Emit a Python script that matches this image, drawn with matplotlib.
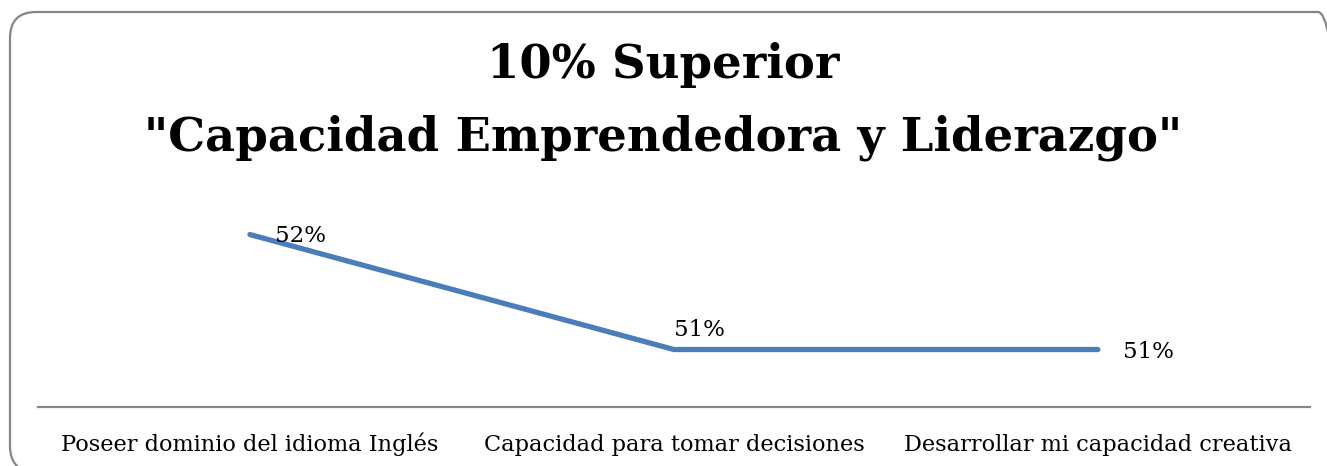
import matplotlib
matplotlib.use("Agg")
import matplotlib.pyplot as plt
from matplotlib.patches import FancyBboxPatch
from matplotlib.transforms import IdentityTransform

# ---------------------------
# Data
# ---------------------------
categories = [
    "Poseer dominio del idioma Inglés",
    "Capacidad para tomar decisiones",
    "Desarrollar mi capacidad creativa",
]
values = [0.52, 0.51, 0.51]
value_labels = ["52%", "51%", "51%"]
title_lines = ["10% Superior", '"Capacidad Emprendedora y Liderazgo"']

LINE_COLOR = "#4A7EBB"
AXIS_COLOR = "#868686"
SERIF = ["DejaVu Serif"]

fig = plt.figure(figsize=(13.27, 4.66), dpi=100)
fig.patch.set_facecolor("white")

# rounded chart frame (display pixels)
frame = FancyBboxPatch((10, -6), 1334, 460,
                       boxstyle="round,pad=0,rounding_size=26",
                       transform=IdentityTransform(),
                       facecolor="none", edgecolor=AXIS_COLOR, linewidth=1.6)
fig.patches.append(frame)

ax = fig.add_axes([0.0286, 0.1266, 0.9585, 0.4934])
x = list(range(len(categories)))
ax.plot(x, values, color=LINE_COLOR, linewidth=3.8, solid_capstyle="round",
        solid_joinstyle="miter")

ax.set_xlim(-0.5, len(categories) - 0.5)
ax.set_ylim(0.505, 0.525)

# data labels: right, above, right
offsets = [(18, -1), (0, 14), (18, -2)]
for xi, v, lab, off in zip(x, values, value_labels, offsets):
    ax.annotate(lab, (xi, v), xytext=off, textcoords="offset points",
                ha="left", va="center", fontsize=16.5, family=SERIF)

for side in ["left", "right", "top"]:
    ax.spines[side].set_visible(False)
ax.spines["bottom"].set_color(AXIS_COLOR)
ax.spines["bottom"].set_linewidth(1.6)
ax.set_yticks([])
ax.set_xticks(x)
ax.set_xticklabels(categories, fontsize=16.2, family=SERIF, va="baseline")
ax.tick_params(axis="x", length=0, pad=32)

fig.text(0.5, 1 - 78 / 466, title_lines[0], ha="center", va="baseline",
         fontsize=33.5, fontweight="bold", family=SERIF)
fig.text(0.5, 1 - 150 / 466, title_lines[1], ha="center", va="baseline",
         fontsize=33.5, fontweight="bold", family=SERIF)

fig.savefig("out.png", dpi=100)
